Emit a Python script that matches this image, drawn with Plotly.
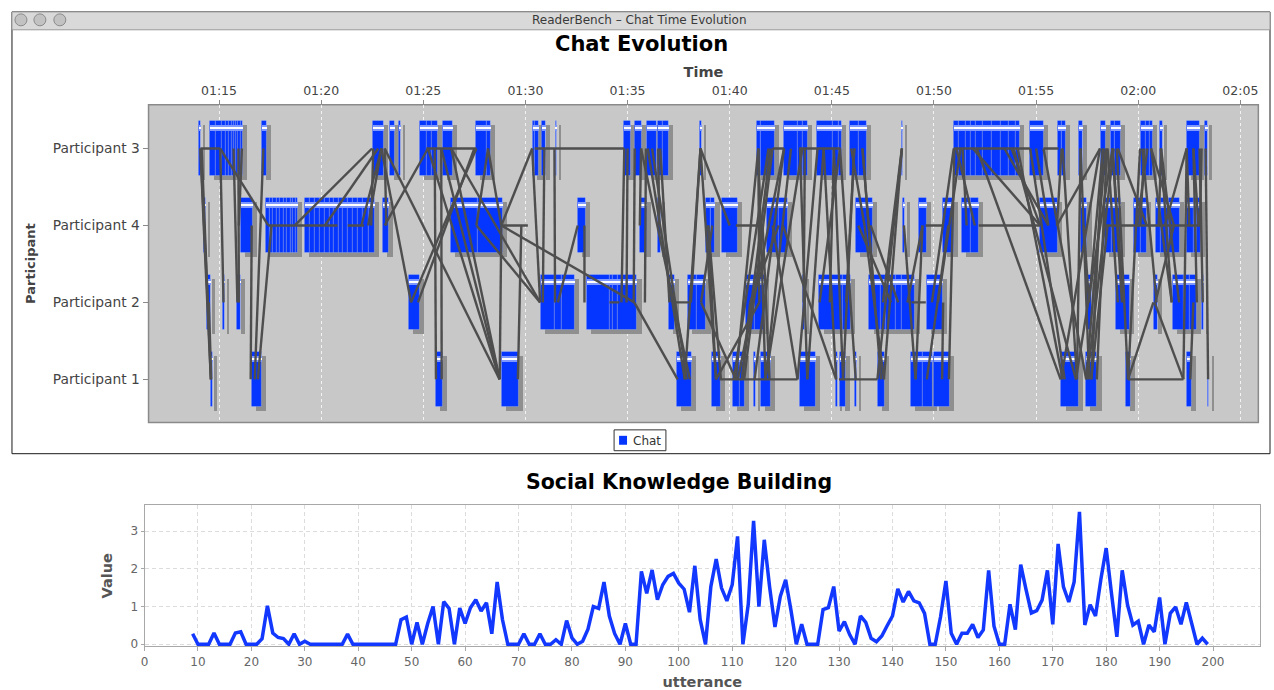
import plotly.graph_objects as go

W, H = 1274, 690

# ---------------- data ----------------
participant_rows = ["Participant 1", "Participant 2", "Participant 4", "Participant 3"]  # bottom -> top
time_ticks = ["01:15", "01:20", "01:25", "01:30", "01:35", "01:40", "01:45", "01:50", "01:55", "02:00", "02:05"]

# chat utterances (minutes after midnight); each block = consecutive utterance boundaries
chat_p3 = [[74.01, 74.10], [74.55, 74.82, 75.10, 75.31, 75.47, 75.61, 75.72, 75.83, 75.93, 76.05, 76.17],
           [77.10, 77.32], [82.51, 83.05], [83.34, 83.59], [83.80, 83.90], [84.80, 85.15, 85.40, 85.70],
           [85.93, 86.41], [87.56, 88.08, 88.29], [90.33, 90.43, 90.64], [90.80, 91.00], [91.46, 91.54],
           [94.78, 95.14], [95.35, 95.69], [95.95, 96.41], [96.48, 96.70, 96.99], [98.51, 98.64],
           [101.33, 101.50, 102.21], [102.66, 103.32, 103.56, 103.80], [104.26, 105.03, 105.32, 105.47],
           [105.88, 106.33, 106.69], [108.40, 108.47],
           [110.97, 111.22, 111.55, 111.79, 112.03, 112.36, 112.80, 113.25, 113.66, 113.99, 114.18],
           [114.69, 115.37], [116.07, 116.25, 116.43], [117.08, 117.28], [118.14, 118.39],
           [118.63, 118.85, 119.12], [120.10, 120.35, 120.55, 120.72], [121.04, 121.20],
           [122.38, 123.00], [123.25, 123.38]]
chat_p4 = [[74.22, 74.34], [76.05, 76.65],
           [77.27, 77.45, 77.62, 77.80, 77.98, 78.15, 78.32, 78.48, 78.62, 78.75, 78.85],
           [79.19, 79.45, 79.70, 79.90, 80.15, 80.40, 80.60, 80.85, 81.05, 81.30, 81.55, 81.80, 82.05, 82.30, 82.61],
           [83.02, 83.29], [86.34, 87.64, 88.87], [92.56, 92.92], [95.58, 95.94], [96.48, 96.60],
           [98.84, 99.05, 99.28], [99.62, 100.38], [101.80, 102.40, 102.83], [106.18, 106.98],
           [108.48, 108.58], [109.26, 109.62], [110.43, 110.97], [111.35, 111.80, 112.20],
           [115.18, 116.06], [117.17, 117.49], [118.34, 118.70, 119.12], [119.77, 120.10, 120.42],
           [120.83, 121.10, 121.50, 122.02], [122.35, 122.70, 122.85, 123.07]]
chat_p2 = [[74.41, 74.58], [75.18, 75.28], [75.85, 76.05], [84.27, 84.80], [90.72, 91.42, 91.75, 92.41],
           [93.00, 94.11, 94.28, 94.52, 95.46], [96.99, 97.29], [97.94, 98.40, 98.84],
           [100.76, 101.20, 101.69], [103.56, 103.68], [104.37, 105.52, 105.92],
           [106.82, 107.40, 107.65, 108.10, 108.40, 109.07], [109.64, 110.43], [117.49, 117.69],
           [118.87, 119.57], [120.74, 120.94], [121.68, 122.20, 122.50, 122.87], [123.12, 123.20]]
chat_p1 = [[74.58, 74.66], [76.58, 77.07], [85.59, 85.93], [88.82, 89.66], [97.40, 98.14],
           [99.13, 99.54], [100.14, 100.50, 100.71], [101.17, 101.28], [101.49, 102.01],
           [103.40, 104.21], [105.16, 105.27], [105.40, 105.68], [106.13, 106.21], [107.23, 107.59],
           [108.86, 109.43, 109.92], [110.00, 110.76], [116.22, 117.08], [117.41, 117.98],
           [119.36, 119.64], [122.35, 122.60], [123.39, 123.45]]

# reply links: (time from, participant from, time to, participant to)
reply_links = [
    (74.09, 3, 75.06, 3), (74.09, 3, 74.25, 4), (74.15, 3, 74.60, 1), (74.45, 2, 74.09, 3),
    (74.60, 1, 74.25, 4), (74.50, 2, 74.62, 1), (75.06, 3, 75.22, 2), (75.06, 3, 77.41, 4),
    (75.71, 3, 75.90, 2), (75.95, 3, 75.97, 2), (76.12, 3, 75.97, 4), (76.60, 4, 76.55, 1),
    (76.75, 1, 77.17, 3), (77.57, 4, 76.90, 1), (77.41, 4, 80.80, 4), (81.30, 4, 82.10, 4),
    (78.71, 4, 82.49, 3), (80.18, 4, 82.79, 3), (81.97, 4, 82.95, 3), (82.30, 4, 82.95, 3),
    (82.55, 3, 82.45, 4), (83.11, 4, 85.23, 3), (83.19, 4, 83.11, 3), (82.95, 3, 84.40, 2),
    (83.11, 3, 88.73, 1), (84.74, 2, 87.50, 3), (85.15, 3, 87.60, 3), (85.56, 3, 85.62, 1),
    (85.88, 3, 85.90, 1), (85.23, 3, 88.74, 1), (85.88, 3, 88.74, 1), (86.37, 3, 88.74, 1),
    (87.60, 3, 84.40, 2), (88.17, 3, 87.60, 4), (88.17, 3, 88.82, 4), (87.60, 4, 90.72, 2),
    (88.82, 4, 90.33, 3), (88.82, 4, 90.12, 4), (88.82, 4, 95.33, 2), (88.82, 4, 88.74, 1),
    (89.80, 4, 89.63, 1), (86.37, 3, 90.72, 2), (90.72, 2, 90.33, 3), (90.45, 3, 94.84, 3),
    (90.93, 3, 90.85, 2), (91.42, 3, 91.45, 2), (91.59, 2, 92.56, 4), (92.89, 4, 92.89, 2),
    (94.84, 3, 94.70, 2), (95.00, 3, 94.95, 2), (95.35, 3, 95.30, 2), (95.66, 3, 95.60, 4),
    (94.11, 2, 94.60, 2), (95.33, 2, 97.45, 1), (95.99, 3, 97.80, 1), (95.66, 3, 98.05, 1),
    (96.20, 3, 97.90, 1), (97.05, 2, 96.60, 3), (97.29, 2, 98.10, 2), (96.50, 3, 96.55, 4),
    (95.90, 3, 95.85, 2),
    (98.10, 2, 98.57, 3), (97.80, 1, 98.57, 3), (98.57, 3, 99.33, 1), (98.95, 4, 99.33, 1),
    (99.15, 4, 98.60, 2), (98.60, 2, 100.30, 1), (99.33, 1, 101.45, 2), (99.50, 1, 103.32, 1),
    (100.30, 4, 101.61, 4), (100.30, 1, 101.40, 3), (100.60, 1, 102.00, 3), (100.60, 1, 101.00, 2),
    (101.22, 1, 102.66, 3), (101.40, 3, 101.75, 1), (101.75, 1, 103.00, 3), (101.90, 3, 100.20, 1),
    (102.10, 3, 102.66, 3), (102.10, 4, 103.32, 1), (101.00, 2, 102.40, 4), (101.45, 2, 101.40, 3),
    (102.66, 3, 100.40, 1), (103.32, 1, 104.30, 3), (103.40, 3, 105.43, 3), (103.44, 3, 103.80, 1),
    (103.68, 3, 103.62, 2), (103.80, 1, 104.60, 3), (103.56, 3, 101.75, 1), (104.60, 3, 105.21, 1),
    (104.90, 2, 105.10, 3), (105.10, 3, 105.55, 1), (105.40, 3, 106.17, 1), (105.40, 3, 104.40, 2),
    (105.21, 1, 102.60, 4), (105.35, 1, 107.23, 1), (105.70, 2, 106.10, 3), (106.10, 3, 105.55, 1),
    (106.50, 3, 107.41, 1), (106.60, 4, 105.95, 3), (106.60, 4, 107.55, 1), (107.10, 2, 106.50, 3),
    (107.23, 1, 108.43, 3), (107.50, 2, 108.43, 3), (108.43, 3, 107.55, 1), (106.90, 4, 108.25, 2),
    (107.90, 2, 106.30, 4), (108.90, 2, 109.60, 2), (109.59, 4, 110.44, 4), (108.53, 4, 109.10, 1),
    (109.10, 1, 109.44, 4), (109.65, 1, 110.70, 4), (110.40, 1, 110.45, 2), (110.73, 1, 111.00, 3),
    (109.90, 2, 110.97, 3), (110.20, 2, 111.30, 3), (108.70, 2, 109.44, 4), (98.57, 3, 100.00, 4),
    (99.57, 1, 98.95, 4), (100.71, 1, 102.10, 3), (101.61, 4, 101.95, 1),
    (110.97, 3, 114.70, 3), (112.19, 4, 115.20, 4), (111.10, 3, 112.00, 4), (111.40, 3, 111.60, 4),
    (111.90, 3, 115.20, 4), (113.80, 3, 115.20, 4), (113.45, 3, 115.60, 4), (113.90, 3, 116.95, 1),
    (114.10, 3, 116.30, 1), (112.10, 3, 116.20, 1), (114.71, 3, 116.40, 1), (115.36, 3, 116.10, 3),
    (115.36, 3, 117.45, 1), (115.00, 3, 115.60, 4), (116.02, 4, 118.13, 3), (116.02, 4, 116.25, 3),
    (116.30, 3, 117.00, 1), (117.00, 1, 117.18, 3), (117.18, 3, 117.60, 1), (117.33, 4, 117.59, 2),
    (117.59, 2, 118.27, 3), (117.70, 1, 118.50, 4), (117.70, 1, 118.27, 3), (116.95, 1, 118.74, 3),
    (118.30, 4, 123.02, 4), (119.20, 2, 118.74, 3), (119.00, 2, 118.50, 3), (118.74, 3, 119.27, 2),
    (118.95, 3, 119.50, 1), (119.50, 1, 122.21, 1), (119.50, 1, 120.09, 3), (119.50, 1, 120.74, 2),
    (120.20, 3, 120.90, 2), (120.45, 3, 119.95, 4), (120.63, 3, 121.64, 2), (121.12, 3, 121.00, 4),
    (121.12, 3, 122.00, 2), (120.84, 2, 121.75, 4), (122.21, 1, 122.37, 3), (122.21, 1, 120.80, 2),
    (122.37, 3, 121.30, 4), (122.37, 3, 122.50, 4), (122.70, 3, 122.87, 2), (123.00, 3, 123.16, 2),
    (123.30, 3, 123.42, 1), (123.10, 3, 123.02, 4), (121.64, 2, 121.10, 3), (122.55, 1, 122.70, 2),
    (118.13, 3, 116.22, 1), (118.40, 3, 117.45, 1), (118.80, 3, 117.50, 1), (117.97, 1, 118.46, 3),
    (119.00, 3, 120.42, 4), (120.10, 4, 120.30, 3), (121.75, 4, 120.63, 3), (122.95, 4, 122.70, 3),
]

# social knowledge building per utterance (utterances 9..199)
skb_utterance = list(range(9, 200))
skb_value = [
    0.28, 0, 0, 0, 0.30, 0, 0, 0, 0.30, 0.33, 0, 0, 0, 0.15, 1.02, 0.30, 0.18, 0.15, 0, 0.28,
    0, 0.08, 0, 0, 0, 0, 0, 0, 0, 0.27, 0, 0, 0, 0, 0, 0, 0, 0, 0, 0.65,
    0.72, 0, 0.58, 0, 0.55, 1.00, 0, 1.13, 0.95, 0, 0.96, 0.55, 0.97, 1.18, 0.88, 1.10, 0.28, 1.65, 0.65, 0,
    0, 0, 0.28, 0, 0, 0.28, 0, 0, 0.12, 0, 0.63, 0.17, 0, 0.08, 0.40, 1.00, 0.95, 1.65, 0.75, 0.28,
    0, 0.55, 0, 0, 1.93, 1.35, 1.97, 1.18, 1.58, 1.80, 1.88, 1.62, 1.46, 0.85, 2.08, 0.66, 0, 1.53, 2.26, 1.49,
    1.15, 1.58, 2.86, 0, 1.06, 3.27, 1.00, 2.77, 1.52, 0.46, 1.27, 1.71, 0.90, 0, 0.53, 0, 0, 0, 0.92, 0.97,
    1.53, 0.35, 0.60, 0.25, 0, 0.75, 0.58, 0.16, 0.07, 0.22, 0.49, 0.75, 1.47, 1.12, 1.40, 1.15, 1.10, 0.82, 0, 0,
    0.73, 1.68, 0.29, 0, 0.29, 0.29, 0.53, 0.18, 0.38, 1.96, 0.48, 0, 0, 1.06, 0.39, 2.11, 1.45, 0.83, 0.89, 1.17,
    1.96, 0.53, 2.66, 1.52, 1.12, 1.65, 3.51, 0.51, 1.05, 0.75, 1.72, 2.55, 1.34, 0.20, 1.96, 1.04, 0.51, 0.61, 0, 0.51,
    0.33, 1.24, 0, 0.82, 0.99, 0.53, 1.11, 0.53, 0, 0.16, 0,
]

# ---------------- build ----------------
def px_x(p):
    return p / W


def px_y(p):
    return 1 - p / H


tick_vals = [int(t[:2]) * 60 + int(t[3:]) for t in time_ticks]

bar_y, bar_base, bar_len = [], [], []
for pnum, blocks in ((3, chat_p3), (4, chat_p4), (2, chat_p2), (1, chat_p1)):
    for blk in blocks:
        for a, b in zip(blk[:-1], blk[1:]):
            bar_y.append(f"Participant {pnum}")
            bar_base.append(a)
            bar_len.append(b - a)

link_x, link_y = [], []
for t1, p1, t2, p2 in reply_links:
    link_x += [t1, t2, None]
    link_y += [f"Participant {p1}", f"Participant {p2}", None]

BLUE = "#0536ff"
FONT = "DejaVu Sans"

fig = go.Figure()
# shadow
fig.add_trace(go.Bar(orientation="h", y=bar_y, x=bar_len, base=[b + 0.2 for b in bar_base],
                     width=0.72, offset=-0.41, marker=dict(color="#8f8f8f", line=dict(width=0)),
                     showlegend=False, hoverinfo="skip", xaxis="x", yaxis="y"))
# main bars
fig.add_trace(go.Bar(orientation="h", y=bar_y, x=bar_len, base=bar_base, name="Chat",
                     width=0.72, offset=-0.36,
                     marker=dict(color=BLUE, line=dict(color="rgba(255,255,255,0.5)", width=0.4)),
                     showlegend=False, hoverinfo="skip", xaxis="x", yaxis="y"))
# highlight band
fig.add_trace(go.Bar(orientation="h", y=bar_y, x=bar_len, base=bar_base, width=0.07, offset=0.235,
                     marker=dict(color="#7f98ff", line=dict(width=0)),
                     showlegend=False, hoverinfo="skip", xaxis="x", yaxis="y"))
fig.add_trace(go.Bar(orientation="h", y=bar_y, x=bar_len, base=bar_base, width=0.028, offset=0.256,
                     marker=dict(color="#ffffff", line=dict(width=0)),
                     showlegend=False, hoverinfo="skip", xaxis="x", yaxis="y"))
# reply links
fig.add_trace(go.Scatter(x=link_x, y=link_y, mode="lines", line=dict(color="#4e4e4e", width=2.4),
                         showlegend=False, hoverinfo="skip", xaxis="x", yaxis="y"))
# social knowledge building
fig.add_trace(go.Scatter(x=skb_utterance, y=skb_value, mode="lines", line=dict(color="#1238ff", width=3.5),
                         showlegend=False, hoverinfo="skip", xaxis="x2", yaxis="y2"))

shapes = [
    # window frame
    dict(type="rect", xref="paper", yref="paper", x0=px_x(8), x1=px_x(1270), y0=px_y(457), y1=px_y(12),
         line=dict(color="#1a1a1a", width=1), fillcolor="white", layer="below"),
    dict(type="rect", xref="paper", yref="paper", x0=px_x(8), x1=px_x(1270), y0=px_y(30), y1=px_y(12),
         line=dict(color="#9a9a9a", width=1), fillcolor="#d9d9d9", layer="below"),
    # gray plot area
    dict(type="rect", xref="x domain", yref="y domain", x0=0, x1=1, y0=0, y1=1,
         fillcolor="#c8c8c8", line=dict(color="#8a8a8a", width=1.5), layer="below"),
    # legend box and key
    dict(type="rect", xref="paper", yref="paper", x0=px_x(612), x1=px_x(664), y0=px_y(454), y1=px_y(433),
         line=dict(color="#333333", width=1), fillcolor="white"),
    dict(type="rect", xref="paper", yref="paper", x0=px_x(617), x1=px_x(625), y0=px_y(448), y1=px_y(439),
         line=dict(width=0), fillcolor=BLUE),
]
for cx in (17, 36, 56):
    shapes.append(dict(type="circle", xref="paper", yref="paper",
                       x0=px_x(cx - 6), x1=px_x(cx + 6), y0=px_y(26), y1=px_y(14),
                       fillcolor="#c2c2c2", line=dict(color="#8a8a8a", width=1)))

annotations = [
    dict(text="ReaderBench – Chat Time Evolution", x=px_x(638), y=px_y(20), xref="paper", yref="paper",
         xanchor="center", yanchor="middle",
         showarrow=False, font=dict(family=FONT, size=12, color="#3a3a3a")),
    dict(text="<b>Chat Evolution</b>", x=px_x(640), y=px_y(44), xref="paper", yref="paper",
         xanchor="center", yanchor="middle",
         showarrow=False, font=dict(family=FONT, size=21, color="black")),
    dict(text="Chat", x=px_x(629), y=px_y(444), xref="paper", yref="paper",
         xanchor="left", yanchor="middle",
         showarrow=False, font=dict(family=FONT, size=12, color="#333")),
    dict(text="<b>Social Knowledge Building</b>", x=px_x(677), y=px_y(486), xref="paper", yref="paper",
         xanchor="center", yanchor="middle",
         showarrow=False, font=dict(family=FONT, size=20.5, color="black")),
]

fig.update_layout(
    width=W, height=H, margin=dict(l=0, r=0, t=0, b=0),
    paper_bgcolor="white", plot_bgcolor="rgba(0,0,0,0)",
    barmode="overlay", bargap=0, showlegend=False,
    font=dict(family=FONT, color="#444"),
    shapes=shapes, annotations=annotations,
    xaxis=dict(domain=[px_x(145), px_x(1258.3)], anchor="y", side="top",
               range=[71.55, 125.88], tickvals=tick_vals, ticktext=time_ticks,
               showgrid=True, gridcolor="rgba(250,250,250,0.85)", griddash="3px,3px", gridwidth=1,
               zeroline=False, showline=True, linecolor="#8a8a8a", ticks="outside", ticklen=4,
               tickcolor="#8a8a8a", tickfont=dict(family=FONT, size=12.5, color="#444"),
               title=dict(text="<b>Time</b>", font=dict(family=FONT, size=14.5, color="#444"), standoff=1)),
    yaxis=dict(domain=[px_y(425.5), px_y(105.5)], anchor="x", type="category",
               categoryorder="array", categoryarray=participant_rows, range=[-0.56, 3.569],
               showgrid=False, zeroline=False, showline=True, linecolor="#8a8a8a",
               ticks="outside", ticklen=5, tickcolor="#8a8a8a",
               tickfont=dict(family=FONT, size=13.8, color="#444"),
               title=dict(text="<b>Participant</b>", font=dict(family=FONT, size=13, color="#444"), standoff=14)),
    xaxis2=dict(domain=[px_x(141), px_x(1260)], anchor="y2", range=[0, 208.8], tick0=0, dtick=10,
                showgrid=True, gridcolor="#dcdcdc", griddash="4px,3px", zeroline=False,
                showline=True, mirror=True, linecolor="#a8a8a8", ticks="outside", ticklen=4,
                tickcolor="#a8a8a8", tickfont=dict(family=FONT, size=12, color="#666"),
                title=dict(text="<b>utterance</b>", font=dict(family=FONT, size=14.5, color="#555"), standoff=11)),
    yaxis2=dict(domain=[px_y(651), px_y(509)], anchor="x2", range=[-0.053, 3.684], tickvals=[0, 1, 2, 3],
                showgrid=True, gridcolor="#dcdcdc", griddash="4px,3px", zeroline=False,
                showline=True, mirror=True, linecolor="#a8a8a8", ticks="outside", ticklen=3,
                tickcolor="#a8a8a8", tickfont=dict(family=FONT, size=12, color="#666"),
                title=dict(text="<b>Value</b>", font=dict(family=FONT, size=14.5, color="#555"), standoff=14)),
)

fig.write_html("out.html", config={"displayModeBar": False},
               post_script="document.body.style.margin='0px';document.body.style.overflow='hidden';")
